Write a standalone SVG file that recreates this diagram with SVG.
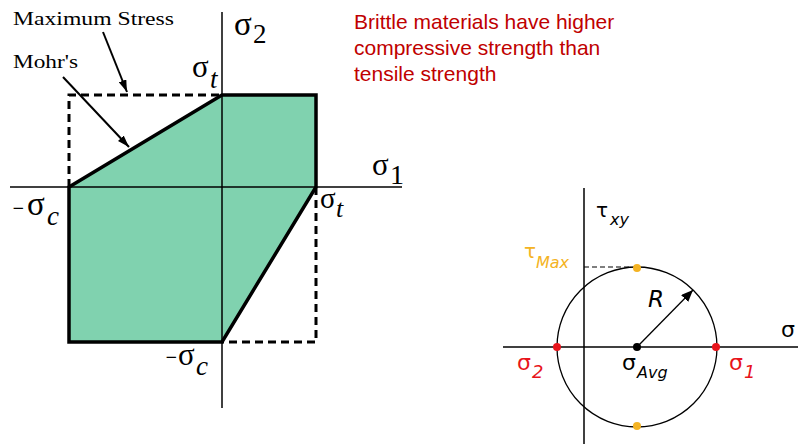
<svg xmlns="http://www.w3.org/2000/svg" width="798" height="444" viewBox="0 0 798 444">
<style>
.ax{stroke:#000;stroke-width:1.5;fill:none}
.dash{stroke:#000;stroke-width:3;stroke-dasharray:8 5;fill:none}
.ser{font-family:"Liberation Serif","Times New Roman",serif;fill:#000}
.it{font-style:italic}
.mn{font-family:"DejaVu Serif",serif;font-size:15px}
.sans{font-family:"DejaVu Sans",Verdana,sans-serif}
.note{font-family:"Liberation Sans",Arial,sans-serif;font-size:21px;fill:#C00000}
.thin{stroke:#000;stroke-width:1.3;fill:none}
</style>
<defs>
<marker id="ah" viewBox="0 0 12 8" refX="12" refY="4" markerWidth="12" markerHeight="8" markerUnits="userSpaceOnUse" orient="auto">
<path d="M0,0 L12,4 L0,8 Z" fill="#000"/>
</marker>
<marker id="ahR" viewBox="0 0 12 10" refX="12" refY="5" markerWidth="12" markerHeight="10" markerUnits="userSpaceOnUse" orient="auto">
<path d="M0,0 L12,5 L0,10 Z" fill="#000"/>
</marker>
</defs>

<g id="left-diagram">
<g id="region">
<polygon points="69,187 222,95 316,95 316,187 222,342 69,342" fill="#80D2AF" stroke="#000" stroke-width="3.5" stroke-linejoin="miter"/>
</g>
<g id="max-stress-box">
<polyline class="dash" points="69,187 69,95 222,95"/>
<polyline class="dash" points="316,187 316,342 222,342"/>
</g>
<g id="axes-left">
<line class="ax" x1="222" y1="12" x2="222" y2="408"/>
<line class="ax" x1="10" y1="187" x2="402" y2="187"/>
</g>
<g id="labels-left" class="ser">
<text x="13" y="25" font-size="19" textLength="161" lengthAdjust="spacingAndGlyphs">Maximum Stress</text>
<text x="13" y="68" font-size="19" textLength="65" lengthAdjust="spacingAndGlyphs">Mohr's</text>
<text x="234" y="35" font-size="33">σ<tspan x="253" y="43" font-size="27">2</tspan></text>
<text x="372" y="175" font-size="31">σ<tspan x="390" y="184" font-size="28">1</tspan></text>
<text x="192" y="77" font-size="31">σ<tspan x="210" y="88" font-size="27" class="it">t</tspan></text>
<text x="320" y="208" font-size="29">σ<tspan x="336" y="217" font-size="26" class="it">t</tspan></text>
<text x="12" y="213"><tspan class="mn">−</tspan><tspan x="27" y="215" font-size="33">σ</tspan><tspan x="47" y="225" font-size="27" class="it">c</tspan></text>
<text x="165" y="362"><tspan class="mn">−</tspan><tspan x="178" y="365" font-size="31">σ</tspan><tspan x="196" y="375" font-size="27" class="it">c</tspan></text>
</g>
<g id="connectors-left">
<line x1="103" y1="32" x2="127" y2="92" stroke="#000" stroke-width="2" marker-end="url(#ah)"/>
<line x1="63" y1="77" x2="129" y2="147" stroke="#000" stroke-width="2" marker-end="url(#ah)"/>
</g>
</g>

<g id="note">
<text class="note" x="354" y="29">Brittle materials have higher</text>
<text class="note" x="354" y="55">compressive strength than</text>
<text class="note" x="354" y="81">tensile strength</text>
</g>

<g id="mohr-circle">
<g id="axes-right">
<line class="ax" x1="584" y1="188" x2="584" y2="444"/>
<line class="ax" x1="503" y1="347" x2="798" y2="347"/>
</g>
<circle cx="637" cy="347" r="80" class="thin"/>
<line x1="584" y1="267" x2="632" y2="267" stroke="#000" stroke-width="1.2" stroke-dasharray="5 3"/>
<g id="radius">
<line x1="637" y1="347" x2="693" y2="290" stroke="#000" stroke-width="1.3" marker-end="url(#ahR)"/>
</g>
<g id="points">
<circle cx="557" cy="347" r="4" fill="#E8141B"/>
<circle cx="716" cy="347" r="4" fill="#E8141B"/>
<circle cx="637" cy="268" r="4" fill="#F4B323"/>
<circle cx="637" cy="426" r="4" fill="#F4B323"/>
<circle cx="637" cy="347" r="4" fill="#000"/>
</g>
<g id="labels-right" class="sans">
<text x="596" y="217" font-size="20" fill="#000">τ<tspan x="610" y="225" font-size="16" class="it">xy</tspan></text>
<text x="524" y="258" font-size="20" fill="#F4B323">τ<tspan x="536" y="268" font-size="16" class="it">Max</tspan></text>
<text x="648" y="307" font-size="23" class="it" fill="#000">R</text>
<text x="781" y="337" font-size="22" fill="#000">σ</text>
<text x="517" y="370" font-size="22" fill="#E8141B">σ<tspan x="532" y="378" font-size="18" class="it">2</tspan></text>
<text x="622" y="370" font-size="22" fill="#000">σ<tspan x="637" y="378" font-size="16" class="it">Avg</tspan></text>
<text x="729" y="370" font-size="22" fill="#E8141B">σ<tspan x="744" y="378" font-size="18" class="it">1</tspan></text>
</g>
</g>
</svg>
